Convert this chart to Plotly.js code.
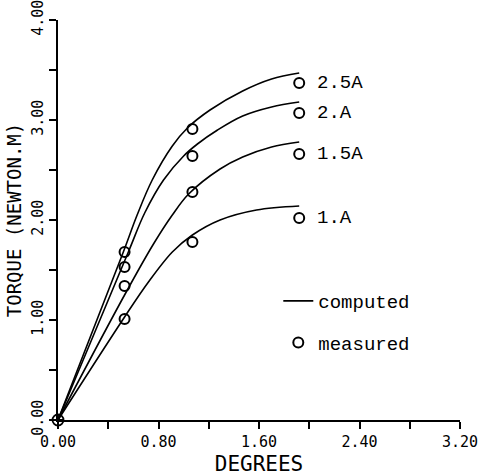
<!DOCTYPE html>
<html><head><meta charset="utf-8">
<script src="https://cdn.plot.ly/plotly-3.0.1.min.js"></script>
<style>html,body{margin:0;padding:0;background:#fff}#chart{width:484px;height:476px}</style>
</head><body><div id="chart"></div>
<script>
// Series labels
const seriesNames = ['1.A', '1.5A', '2.A', '2.5A'];

// Computed curves (degrees, torque N.m)
const curveX_1A  = [0, 0.53, 0.72, 0.91, 1.07, 1.29, 1.58, 1.92];
const curveY_1A  = [0, 1.03, 1.38, 1.68, 1.85, 2.00, 2.10, 2.14];
const curveX_15A = [0, 0.53, 0.76, 0.91, 1.04, 1.29, 1.47, 1.70, 1.92];
const curveY_15A = [0, 1.25, 1.76, 2.05, 2.26, 2.51, 2.63, 2.73, 2.78];
const curveX_2A  = [0, 0.56, 0.69, 0.84, 1.00, 1.11, 1.27, 1.47, 1.70, 1.92];
const curveY_2A  = [0, 1.68, 2.07, 2.40, 2.64, 2.76, 2.90, 3.04, 3.13, 3.18];
const curveX_25A = [0, 0.52, 0.63, 0.75, 0.91, 1.03, 1.21, 1.47, 1.70, 1.92];
const curveY_25A = [0, 1.68, 2.05, 2.40, 2.74, 2.92, 3.10, 3.29, 3.41, 3.47];

// Measured points
const measX     = [0.53, 1.07, 1.92];
const measY_1A  = [1.01, 1.78, 2.02];
const measY_15A = [1.34, 2.28, 2.66];
const measY_2A  = [1.53, 2.64, 3.07];
const measY_25A = [1.68, 2.91, 3.37];
const originX = [0];
const originY = [0];

// Axis ticks
const xTickVals = [0, 0.8, 1.6, 2.4, 3.2];
const xTickText = ['0.00', '0.80', '1.60', '2.40', '3.20'];
const xMinorVals = [0.4, 1.2, 2.0, 2.8];
const yTickVals = [0, 1, 2, 3, 4];
const yTickText = ['0.00', '1.00', '2.00', '3.00', '4.00'];
const yMinorVals = [0.5, 1.5, 2.5, 3.5];

const curvesX = [curveX_1A, curveX_15A, curveX_2A, curveX_25A];
const curvesY = [curveY_1A, curveY_15A, curveY_2A, curveY_25A];
const measYs  = [measY_1A, measY_15A, measY_2A, measY_25A];

const monoFont = 'Liberation Mono, Courier New, monospace';
const plotFont = 'DejaVu Sans Mono, monospace';

const traces = [];
curvesX.forEach((cx, i) => {
  traces.push({
    x: cx, y: curvesY[i], type: 'scatter', mode: 'lines',
    line: {color: '#000', width: 1.6, shape: 'spline', smoothing: 1},
    name: 'computed', showlegend: i === 0, legendgroup: 'a', hoverinfo: 'skip'
  });
});
measYs.forEach((my, i) => {
  traces.push({
    x: measX, y: my, type: 'scatter', mode: 'markers',
    marker: {symbol: 'circle-open', size: 10, color: '#000', line: {width: 2, color: '#000'}},
    name: 'measured', showlegend: i === 0, legendgroup: 'b', hoverinfo: 'skip'
  });
});
traces.push({
  x: originX, y: originY, type: 'scatter', mode: 'markers',
  marker: {symbol: 'circle-cross-open', size: 11, color: '#000', line: {width: 1.8, color: '#000'}},
  showlegend: false, hoverinfo: 'skip', cliponaxis: false
});

const annotations = seriesNames.map((nm, i) => ({
  x: measX[measX.length - 1], y: measYs[i][measX.length - 1],
  xref: 'x', yref: 'y', text: nm, showarrow: false,
  xanchor: 'left', yanchor: 'middle', xshift: 16,
  font: {family: monoFont, size: 19, color: '#000'}
}));

const layout = {
  width: 484, height: 476,
  margin: {l: 58, r: 24, t: 20, b: 56},
  paper_bgcolor: '#fff', plot_bgcolor: '#fff',
  showlegend: true,
  legend: {
    x: 0.548, y: 0.345, xanchor: 'left', yanchor: 'top',
    font: {family: monoFont, size: 19, color: '#000'},
    bgcolor: 'rgba(0,0,0,0)', tracegroupgap: 14, traceorder: 'grouped'
  },
  xaxis: {
    range: [0, 3.2], showgrid: false, zeroline: false,
    showline: true, linecolor: '#000', linewidth: 2,
    ticks: 'outside', ticklen: 7, tickwidth: 2, tickcolor: '#000',
    tickvals: xTickVals, ticktext: xTickText, ticklabeloverflow: 'allow',
    minor: {tickvals: xMinorVals, ticks: 'outside', ticklen: 7, tickwidth: 2, tickcolor: '#000'},
    tickfont: {family: plotFont, size: 15, color: '#000'},
    title: {text: 'DEGREES', font: {family: plotFont, size: 21, color: '#000'}, standoff: 6}
  },
  yaxis: {
    range: [0, 4], showgrid: false, zeroline: false,
    showline: true, linecolor: '#000', linewidth: 2,
    ticks: 'outside', ticklen: 7, tickwidth: 2, tickcolor: '#000',
    tickvals: yTickVals, ticktext: yTickText, tickangle: -90, ticklabeloverflow: 'allow',
    minor: {tickvals: yMinorVals, ticks: 'outside', ticklen: 7, tickwidth: 2, tickcolor: '#000'},
    tickfont: {family: plotFont, size: 15, color: '#000'},
    title: {text: 'TORQUE (NEWTON.M)', font: {family: plotFont, size: 19, color: '#000'}, standoff: 2}
  },
  annotations: annotations
};

Plotly.newPlot('chart', traces, layout, {staticPlot: true, displayModeBar: false});
</script>
</body></html>
